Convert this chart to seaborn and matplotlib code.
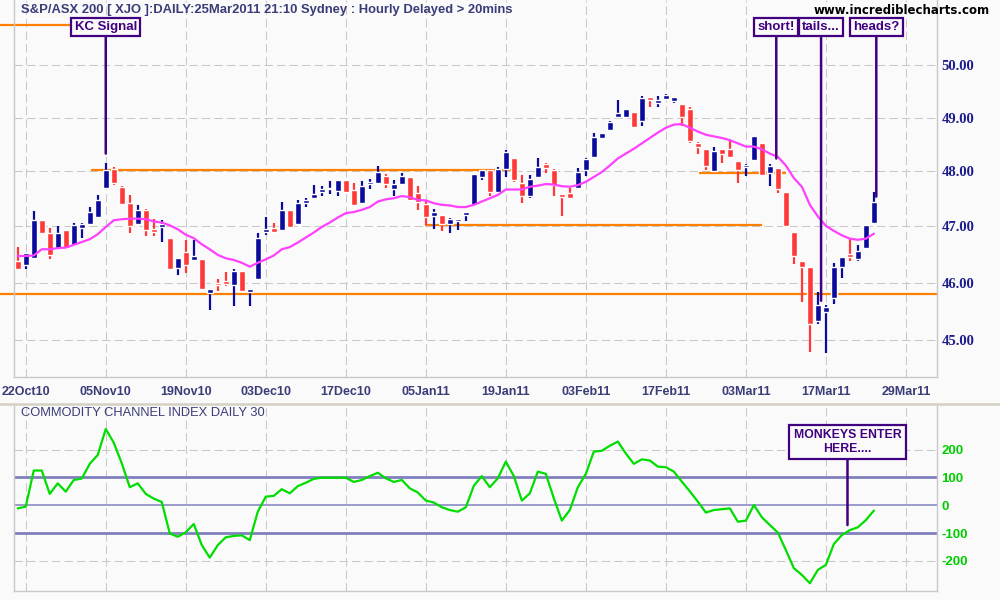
import numpy as np
import pandas as pd
import seaborn as sns
import matplotlib.pyplot as plt
from matplotlib.lines import Line2D
from matplotlib.ticker import FixedLocator, NullLocator

sns.set_style("white")
plt.rcParams['font.family'] = ['Liberation Sans', 'DejaVu Sans']

# tick labels every 10 bars (bar 1 = 22Oct10)
date_labels = ['22Oct10', '05Nov10', '19Nov10', '03Dec10', '17Dec10', '05Jan11',
               '19Jan11', '03Feb11', '17Feb11', '03Mar11', '17Mar11', '29Mar11']
date_pos = [1, 11, 21, 31, 41, 51, 61, 71, 81, 91, 101, 111]

opens = [46.39, 46.31, 46.44, 47.12, 46.88, 46.59, 46.93, 46.66, 46.98, 47.05,
         47.17, 47.70, 48.04, 47.71, 47.43, 47.05, 47.30, 46.96, 46.99, 46.80,
         46.26, 46.54, 46.40, 46.42, 45.81, 45.99, 46.02, 45.95, 46.20, 45.83,
         46.06, 46.90, 46.98, 46.93, 47.29, 47.04, 47.42, 47.51, 47.62, 47.67,
         47.65, 47.85, 47.66, 47.43, 47.77, 47.79, 47.92, 47.68, 47.77, 47.89,
         47.60, 47.41, 47.18, 47.20, 47.05, 47.10, 47.20, 47.38, 47.90, 48.03,
         47.62, 48.04, 48.25, 47.79, 47.56, 47.90, 48.13, 48.03, 47.58, 47.60,
         47.69, 48.02, 48.27, 48.62, 48.77, 49.01, 49.02, 49.11, 48.93, 49.39,
         49.28, 49.36, 49.31, 49.26, 49.17, 48.52, 48.42, 48.00, 48.42, 48.42,
         48.19, 48.08, 48.22, 48.53, 47.97, 48.07, 47.63, 46.90, 46.38, 46.27,
         45.33, 45.48, 45.72, 46.27, 46.51, 46.41, 46.61, 47.06]
highs = [46.63, 46.52, 47.27, 47.12, 46.98, 47.01, 46.93, 47.06, 47.07, 47.35,
         47.57, 48.15, 48.09, 47.74, 47.57, 47.39, 47.32, 47.14, 47.11, 46.80,
         46.44, 46.76, 46.76, 46.42, 45.88, 46.07, 46.18, 46.24, 46.20, 45.89,
         46.88, 47.17, 47.07, 47.45, 47.29, 47.48, 47.51, 47.75, 47.73, 47.82,
         47.85, 47.85, 47.78, 47.82, 47.86, 48.11, 47.96, 47.84, 47.98, 47.89,
         47.74, 47.48, 47.32, 47.20, 47.16, 47.13, 47.26, 47.96, 48.02, 48.05,
         48.09, 48.40, 48.25, 47.94, 47.93, 48.24, 48.16, 48.05, 47.58, 47.69,
         48.07, 48.24, 48.71, 48.72, 48.93, 49.33, 49.17, 49.11, 49.40, 49.39,
         49.41, 49.45, 49.39, 49.26, 49.20, 48.55, 48.42, 48.46, 48.42, 48.58,
         48.19, 48.13, 48.66, 48.53, 48.13, 48.07, 47.63, 46.90, 46.38, 46.27,
         45.83, 45.61, 46.34, 46.45, 46.79, 46.66, 47.02, 47.62]
lows = [46.24, 46.24, 46.42, 46.86, 46.42, 46.59, 46.59, 46.66, 46.80, 47.05,
        47.16, 47.70, 47.76, 47.41, 46.88, 47.05, 46.82, 46.82, 46.72, 46.24,
        46.13, 46.17, 46.40, 45.88, 45.51, 45.85, 45.94, 45.58, 45.85, 45.58,
        46.06, 46.84, 46.90, 46.93, 46.97, 47.04, 47.35, 47.51, 47.56, 47.58,
        47.56, 47.63, 47.38, 47.43, 47.68, 47.79, 47.69, 47.56, 47.77, 47.48,
        47.30, 47.03, 46.96, 46.92, 46.88, 46.93, 47.10, 47.38, 47.85, 47.56,
        47.62, 47.90, 47.81, 47.42, 47.51, 47.90, 47.97, 47.56, 47.18, 47.52,
        47.69, 47.92, 48.27, 48.62, 48.77, 49.01, 49.02, 48.82, 48.85, 49.21,
        49.20, 49.36, 49.28, 48.84, 48.53, 48.33, 48.03, 48.00, 48.16, 48.27,
        47.79, 47.92, 48.22, 47.93, 47.74, 47.60, 47.00, 46.33, 45.65, 44.79,
        45.28, 44.77, 45.63, 46.08, 46.38, 46.39, 46.61, 47.06]
closes = [46.24, 46.52, 47.12, 46.89, 46.49, 46.88, 46.61, 47.02, 47.04, 47.26,
          47.48, 48.02, 47.79, 47.41, 47.01, 47.30, 46.93, 46.90, 47.04, 46.24,
          46.44, 46.31, 46.47, 45.89, 45.88, 45.96, 45.98, 46.21, 45.85, 45.89,
          46.79, 46.96, 46.90, 47.29, 46.99, 47.43, 47.48, 47.59, 47.68, 47.70,
          47.85, 47.63, 47.38, 47.73, 47.81, 47.99, 47.77, 47.77, 47.91, 47.48,
          47.45, 47.17, 47.26, 47.05, 47.14, 47.11, 47.26, 47.96, 48.02, 47.63,
          48.04, 48.36, 47.84, 47.56, 47.87, 48.09, 48.07, 47.76, 47.54, 47.52,
          47.99, 48.23, 48.64, 48.72, 48.92, 49.08, 49.17, 48.82, 49.38, 49.33,
          49.34, 49.42, 49.39, 49.01, 48.57, 48.46, 48.10, 48.38, 48.33, 48.27,
          48.03, 48.10, 48.66, 47.93, 48.10, 47.67, 47.00, 46.47, 46.27, 45.28,
          45.60, 45.57, 46.28, 46.45, 46.45, 46.56, 47.02, 47.44]

# magenta moving average
mov_avg = [46.47, 46.47, 46.48, 46.59, 46.59, 46.61, 46.62, 46.67, 46.72, 46.77,
           46.86, 46.99, 47.11, 47.13, 47.14, 47.14, 47.13, 47.09, 47.07, 47.02,
           46.95, 46.85, 46.79, 46.68, 46.59, 46.49, 46.43, 46.40, 46.35, 46.28,
           46.35, 46.41, 46.48, 46.59, 46.63, 46.71, 46.80, 46.89, 46.99, 47.07,
           47.16, 47.24, 47.26, 47.30, 47.35, 47.45, 47.49, 47.51, 47.55, 47.53,
           47.48, 47.47, 47.42, 47.39, 47.38, 47.35, 47.35, 47.39, 47.45, 47.51,
           47.57, 47.67, 47.67, 47.67, 47.72, 47.74, 47.77, 47.76, 47.73, 47.72,
           47.75, 47.81, 47.90, 47.99, 48.11, 48.24, 48.33, 48.42, 48.52, 48.62,
           48.72, 48.81, 48.87, 48.88, 48.81, 48.74, 48.68, 48.65, 48.62, 48.58,
           48.52, 48.46, 48.46, 48.41, 48.33, 48.27, 48.11, 47.88, 47.72, 47.39,
           47.18, 47.01, 46.92, 46.84, 46.78, 46.76, 46.78, 46.87]

cci = [-11, -5, 125, 125, 41, 79, 49, 91, 96, 149,
       181, 274, 225, 151, 65, 79, 41, 24, 12, -101,
       -113, -97, -67, -143, -188, -143, -115, -110, -108, -125,
       -23, 31, 34, 58, 43, 69, 81, 95, 99, 99,
       99, 99, 84, 91, 105, 117, 97, 84, 91, 61,
       46, 17, 10, -7, -17, -23, -7, 70, 105, 65,
       97, 157, 105, 17, 43, 121, 113, 25, -55, -17,
       65, 113, 193, 196, 214, 229, 186, 149, 165, 161,
       139, 137, 121, 85, 50, 13, -26, -17, -14, -11,
       -59, -55, 1, -43, -71, -98, -161, -226, -250, -280,
       -232, -214, -139, -107, -89, -79, -53, -19]

# orange support / resistance lines
level_values = [50.77, 48.02, 47.02, 47.97, 45.79]
level_start = [-2.2, 9.2, 50.9, 85.2, -2.2]
level_end = [6.5, 62.5, 93.0, 96.0, 114.9]

bars = pd.DataFrame({'open': opens, 'high': highs, 'low': lows, 'close': closes,
                     'ma': mov_avg, 'cci': cci})
bars['bar'] = np.arange(len(bars))
bars['up'] = bars['close'] >= bars['open']

BG = '#fafafa'
GRID = '#c8c8c8'
NAVY = '#3a3c78'
INDIGO = '#400080'
XMIN, XMAX = -0.43, 114.85

fig = plt.figure(figsize=(10, 6), dpi=100, facecolor=BG)
ax = fig.add_axes([0.0143, 1 - 376.7 / 600, 0.9224, 376.7 / 600], facecolor=BG)
ax2 = fig.add_axes([0.0143, 0.015, 0.9224, 0.31], facecolor=BG)

# ---- price panel
ax.set_yscale('log')
ax.set_xlim(XMIN, XMAX)
ax.set_ylim(44.37, 51.26)

for i in range(len(level_values)):
    ax.hlines(level_values[i], level_start[i], level_end[i], color='#ff8000', lw=1.6,
              clip_on=False, zorder=2)

cols = np.where(bars['up'], '#0a0a9c', '#ff3838')
ax.vlines(bars['bar'], bars['low'], bars['high'], colors=cols, lw=1.6, zorder=3)
body_lo = bars[['open', 'close']].min(axis=1)
body_h = (bars['open'] - bars['close']).abs().clip(lower=0.035)
ax.bar(bars['bar'], body_h, bottom=body_lo, width=0.8, color=cols, zorder=4)

sns.lineplot(data=bars, x='bar', y='ma', ax=ax, color='#ff40ff', lw=1.6, zorder=5)

ax.yaxis.set_major_locator(FixedLocator([45, 46, 47, 48, 49, 50]))
ax.yaxis.set_minor_locator(NullLocator())
ax.set_yticklabels(['45.00', '46.00', '47.00', '48.00', '49.00', '50.00'])
ax.yaxis.tick_right()
ax.tick_params(axis='y', length=0, pad=3.5)
for lab in ax.get_yticklabels():
    lab.set_fontfamily('Liberation Serif')
    lab.set_fontweight('bold')
    lab.set_fontsize(10.5)
    lab.set_color('#1c1c8c')
    lab.set_horizontalalignment('left')

ax.set_xticks(date_pos)
ax.set_xticklabels(date_labels, fontsize=9, fontweight='bold', color=NAVY)
ax.tick_params(axis='x', length=5, color=GRID, width=1, pad=2)
ax.grid(True, color=GRID, ls=(0, (8, 4)), lw=0.75)
ax.set_xlabel('')
ax.set_ylabel('')
for s in ['left', 'right', 'bottom']:
    ax.spines[s].set_color(GRID)
    ax.spines[s].set_linewidth(1)
ax.spines['top'].set_visible(False)


def callout(axis, text, x, y, ty, fs=9.5, pad=0.25):
    axis.annotate(text, xy=(x, y), xytext=(x, ty), xycoords='data',
                  textcoords=('data', 'axes fraction'), ha='center', va='center',
                  fontsize=fs, fontweight='bold', color=INDIGO, zorder=6,
                  bbox=dict(boxstyle=f'square,pad={pad}', fc=BG, ec=INDIGO, lw=1.6),
                  arrowprops=dict(arrowstyle='-', color=INDIGO, lw=1.8,
                                  shrinkA=0, shrinkB=0))


callout(ax, 'KC Signal', 11.0, 48.33, 0.928)
callout(ax, 'short!', 94.8, 48.24, 0.928)
callout(ax, 'tails...', 100.4, 45.68, 0.928)
callout(ax, 'heads?', 107.3, 47.54, 0.928)

# ---- CCI panel
ax2.set_xlim(XMIN, XMAX)
ax2.set_ylim(-307.9, 360.4)
for lvl, w in [(100, 2.0), (-100, 2.0), (0, 1.1)]:
    ax2.axhline(lvl, color='#8080c0', lw=w, zorder=2)
for lvl in [200, -200]:
    ax2.axhline(lvl, color=GRID, lw=0.75, ls=(0, (8, 4)), zorder=1)
sns.lineplot(data=bars, x='bar', y='cci', ax=ax2, color='#00dd00', lw=1.6, zorder=4)
ax2.set_xticks(date_pos)
ax2.set_xticklabels([])
ax2.grid(True, axis='x', color=GRID, ls=(0, (8, 4)), lw=0.75)
ax2.tick_params(axis='x', length=0)
ax2.yaxis.tick_right()
ax2.set_yticks([-200, -100, 0, 100, 200])
ax2.set_yticklabels(['-200', '-100', '0', '100', '200'], fontsize=9.5,
                    fontweight='bold', color='#00cc00')
ax2.tick_params(axis='y', length=0, pad=3.5)
ax2.set_xlabel('')
ax2.set_ylabel('')
for s in ['left', 'right', 'bottom']:
    ax2.spines[s].set_color(GRID)
    ax2.spines[s].set_linewidth(1)
ax2.spines['top'].set_visible(False)
ax2.text(0.0075, 0.955, 'COMMODITY CHANNEL INDEX DAILY 30', transform=ax2.transAxes,
         fontsize=9.3, color=NAVY, va='center', ha='left')

callout(ax2, 'MONKEYS ENTER\nHERE....', 103.7, -71, 0.801, fs=8.8, pad=0.35)

# ---- header texts and panel separator
fig.text(0.021, 1 - 9.5 / 600, 'S&P/ASX 200 [ XJO ]:DAILY:25Mar2011 21:10 Sydney : Hourly Delayed > 20mins',
         fontsize=9.4, fontweight='bold', color=NAVY, va='center', ha='left')
fig.text(0.990, 1 - 10 / 600, 'www.incrediblecharts.com', fontsize=8.5,
         fontweight='bold', color='black', va='center', ha='right',
         family=['DejaVu Sans'])
fig.add_artist(Line2D([0, 1], [1 - 404 / 600] * 2, color='#d4d0c4', lw=1.8))

fig.savefig('out.png', dpi=100, facecolor=BG)
